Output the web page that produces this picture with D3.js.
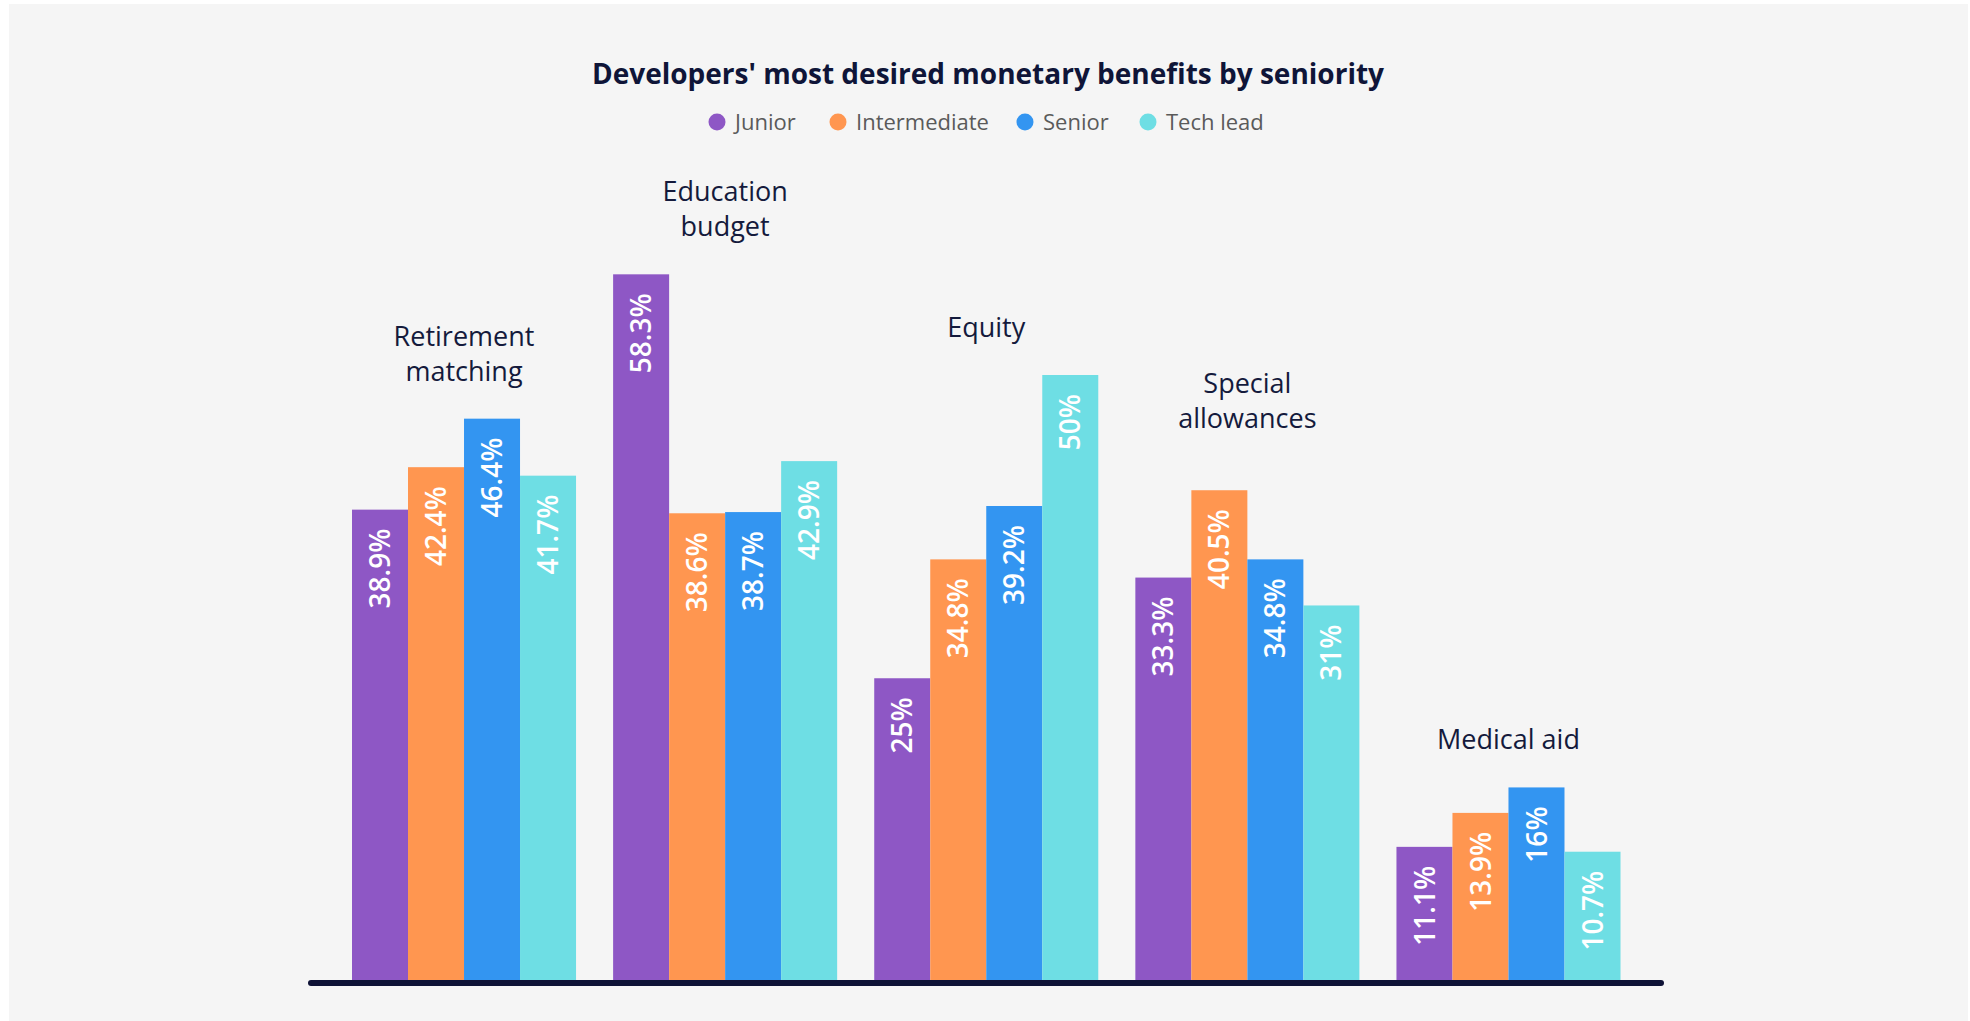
<!DOCTYPE html>
<html>
<head>
<meta charset="utf-8">
<script src="https://cdn.jsdelivr.net/npm/d3@7"></script>
<style>
  html, body { margin: 0; padding: 0; background: #ffffff; }
  svg { display: block; }
  text { font-family: "Open Sans", Lato, sans-serif; }
</style>
</head>
<body>
<svg id="chart" width="1970" height="1021"></svg>
<script>
// Benefit categories (label lines) and seniority series
const categories = ["Retirement matching", "Education budget", "Equity", "Special allowances", "Medical aid"];
const categoryLines = [["Retirement", "matching"], ["Education", "budget"], ["Equity"], ["Special", "allowances"], ["Medical aid"]];
const seniorities = ["Junior", "Intermediate", "Senior", "Tech lead"];

const junior       = [38.9, 58.3, 25,   33.3, 11.1];
const intermediate = [42.4, 38.6, 34.8, 40.5, 13.9];
const senior       = [46.4, 38.7, 39.2, 34.8, 16];
const techLead     = [41.7, 42.9, 50,   31,   10.7];

const seriesValues = [junior, intermediate, senior, techLead];
const colors = ["#8e57c5", "#ff9650", "#3395f1", "#6edee4"];

const svg = d3.select("#chart");

// panel background
svg.append("rect")
  .attr("x", 9).attr("y", 4)
  .attr("width", 1959).attr("height", 1017)
  .attr("fill", "#f5f5f5");

// title
svg.append("text")
  .attr("x", 988).attr("y", 84)
  .attr("text-anchor", "middle")
  .attr("font-size", 28)
  .attr("font-weight", 700)
  .attr("fill", "#0f1538")
  .text("Developers' most desired monetary benefits by seniority");

// legend
const legendX = [717, 838, 1025, 1148];
const legend = svg.append("g");
seniorities.forEach((s, i) => {
  const g = legend.append("g").attr("transform", `translate(${legendX[i]},122)`);
  g.append("circle").attr("r", 8.5).attr("fill", colors[i]);
  g.append("text")
    .attr("x", 18).attr("y", 7.5)
    .attr("font-size", 22)
    .attr("fill", "#5a5a5a")
    .text(s);
});

// scales
const x0 = d3.scaleBand().domain(categories).range([352, 1620.5]).paddingInner(0.142).paddingOuter(0);
const x1 = d3.scaleBand().domain(seniorities).range([0, x0.bandwidth()]).padding(0);
const y = d3.scaleLinear().domain([0, 60]).range([981.5, 981.5 - 60 * 12.13]);

const rows = categories.map((c, ci) => ({
  category: c,
  lines: categoryLines[ci],
  values: seniorities.map((s, si) => ({ seniority: s, color: colors[si], value: seriesValues[si][ci] }))
}));

const groups = svg.append("g").selectAll("g")
  .data(rows)
  .join("g")
  .attr("transform", d => `translate(${x0(d.category)},0)`);

groups.selectAll("rect")
  .data(d => d.values)
  .join("rect")
  .attr("x", d => x1(d.seniority))
  .attr("y", d => y(d.value))
  .attr("width", x1.bandwidth())
  .attr("height", d => y(0) - y(d.value) + 1.5)
  .attr("fill", d => d.color);

// value labels, rotated inside the top of each bar
groups.selectAll("text.value")
  .data(d => d.values)
  .join("text")
  .attr("class", "value")
  .attr("transform", d => `translate(${x1(d.seniority) + x1.bandwidth() / 2},${y(d.value) + 19}) rotate(-90)`)
  .attr("text-anchor", "end")
  .attr("dy", "0.36em")
  .attr("font-size", 28)
  .attr("font-weight", 600)
  .attr("fill", "#ffffff")
  .text(d => d.value + "%");

// category labels above each group
const liftDefault = 38;
const liftFor = { "Special allowances": 62 };
groups.append("text")
  .attr("class", "cat")
  .attr("text-anchor", "middle")
  .attr("font-size", 27)
  .attr("fill", "#141a3c")
  .each(function (d) {
    const top = y(d3.max(d.values, v => v.value));
    const lift = liftFor[d.category] ?? liftDefault;
    const lastBase = top - lift;
    const t = d3.select(this);
    d.lines.forEach((line, li) => {
      t.append("tspan")
        .attr("x", x0.bandwidth() / 2)
        .attr("y", lastBase - (d.lines.length - 1 - li) * 35)
        .text(line);
    });
  });

// baseline
svg.append("line")
  .attr("x1", 311).attr("x2", 1661)
  .attr("y1", y(0) + 1.5).attr("y2", y(0) + 1.5)
  .attr("stroke", "#0e1236")
  .attr("stroke-width", 6)
  .attr("stroke-linecap", "round");
</script>
</body>
</html>
